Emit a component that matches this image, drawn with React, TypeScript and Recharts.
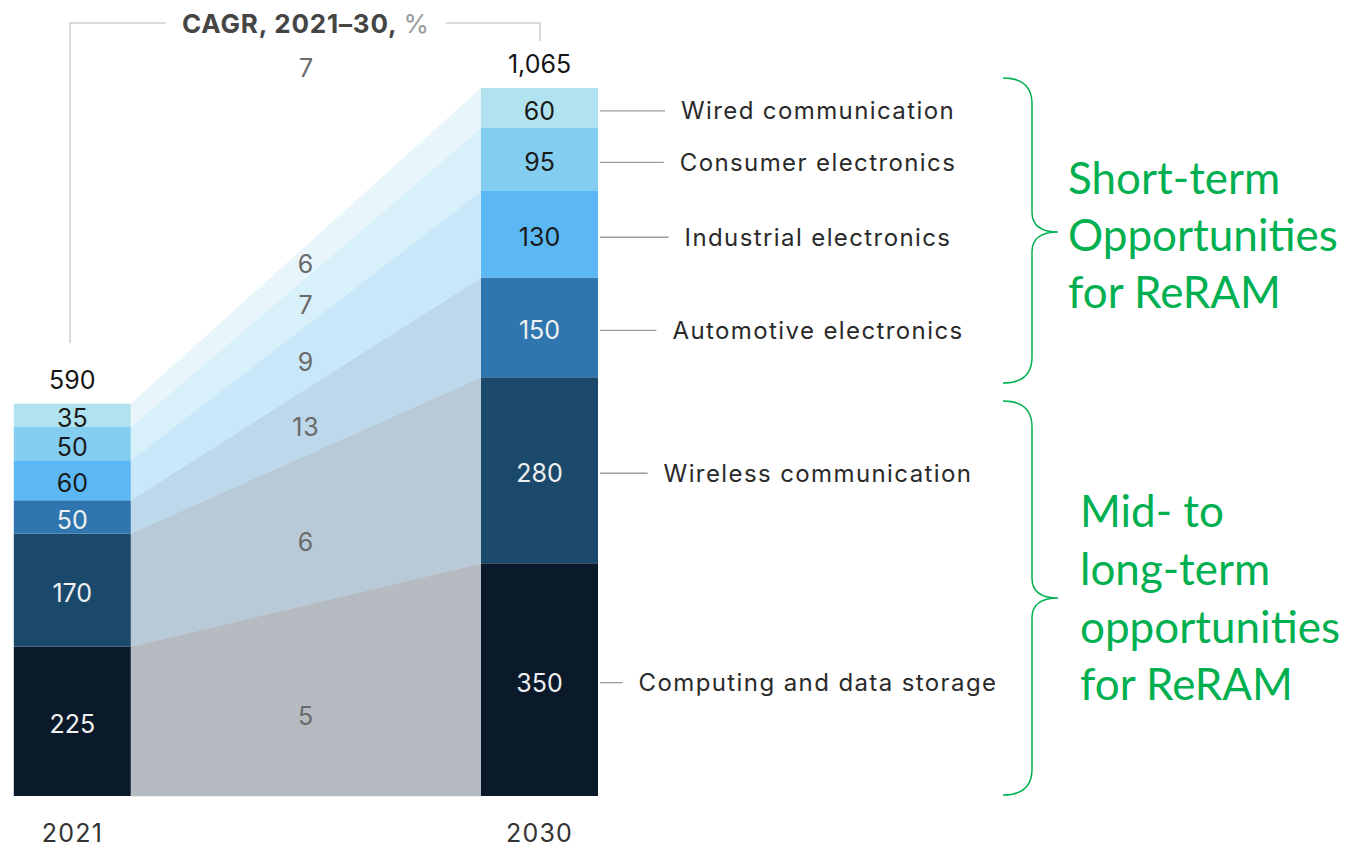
import React from 'react';
import { ComposedChart, Bar, Area, Scatter, XAxis, YAxis, LabelList } from 'recharts';

const years = ['2021', '2030'];
const segments = [
  'Computing and data storage',
  'Wireless communication',
  'Automotive electronics',
  'Industrial electronics',
  'Consumer electronics',
  'Wired communication',
];
const values2021 = [225, 170, 50, 60, 50, 35];
const values2030 = [350, 280, 150, 130, 95, 60];
const cagr = [5, 6, 13, 9, 7, 6];
const totals = [590, 1065];
const totalCagr = 7;

const barColors = ['#0b1a2a', '#1b496c', '#2f76b0', '#5bb8f5', '#82cdf0', '#b0e3ef'];
const areaColors = ['#b6bac1', '#b8cad8', '#bcd8ea', '#c8e8f9', '#d8f0fa', '#e8f6fb'];
const valueColors = ['#f0f0f0', '#f0f0f0', '#f0f0f0', '#1a1a1a', '#1a1a1a', '#1a1a1a'];

const FONT = 'Inter';
const GREEN = '#00b050';

const cumulative = (vals: number[]) =>
  vals.reduce<number[]>((acc, v) => [...acc, acc[acc.length - 1] + v], [0]);
const base2021 = cumulative(values2021);
const base2030 = cumulative(values2030);

// bars use x "t", the connecting bands use x "ta" (own hidden axis)
const barRow = (t: number, year: string, vals: number[], total: number) => {
  const row: any = { t, year, total };
  vals.forEach((v, i) => (row['b' + i] = v));
  return row;
};
const areaRow = (ta: number, base: number[]) => {
  const row: any = { ta };
  segments.forEach((_, i) => (row['a' + i] = [base[i], base[i + 1]]));
  return row;
};

const chartData = [
  barRow(0.5, years[0], values2021, totals[0]),
  areaRow(1, base2021),
  areaRow(4, base2030),
  barRow(4.5, years[1], values2030, totals[1]),
];

const cagrPoints = segments.map((_, i) => {
  const lo = (base2021[i] + base2030[i]) / 2;
  const hi = (base2021[i + 1] + base2030[i + 1]) / 2;
  return { ta: 2.5, v: lo + (hi - lo) * 0.42, label: cagr[i] };
});

let ctx: CanvasRenderingContext2D | null = null;
const textWidth = (s: string, font: string) => {
  if (!ctx) ctx = document.createElement('canvas').getContext('2d');
  if (!ctx) return s.length * 13;
  ctx.font = font;
  return ctx.measureText(s).width;
};

const LABEL_SIZE = 24;
const LABEL_SPACING = 1.4;

const getBox = (props: any) => {
  const vb = props.viewBox && props.viewBox.width != null ? props.viewBox : props;
  const h = Number(vb.height);
  return { x: Number(vb.x), y: h < 0 ? Number(vb.y) + h : Number(vb.y), width: Number(vb.width), height: Math.abs(h) };
};

const segmentLabel = (i: number) => (props: any) => {
  const { value } = props;
  if (value == null) return null;
  const { x, y, width, height } = getBox(props);
  const cx = x + width / 2;
  const cy = y + height / 2 + 3;
  const isLast = value === values2030[i];
  let extra = null;
  if (isLast) {
    const right = x + width;
    const center = right + 220;
    const w = textWidth(segments[i], `${LABEL_SIZE}px ${FONT}`) + LABEL_SPACING * segments[i].length;
    extra = (
      <g>
        <line x1={right + 2} y1={cy} x2={center - w / 2 - 16} y2={cy} stroke="#9c9c9c" strokeWidth={1.3} />
        <text
          x={center}
          y={cy}
          textAnchor="middle"
          dominantBaseline="central"
          fontFamily={FONT}
          fontSize={LABEL_SIZE}
          letterSpacing={LABEL_SPACING}
          fill="#2a2a2a"
        >
          {segments[i]}
        </text>
      </g>
    );
  }
  return (
    <g>
      <text
        x={cx}
        y={cy}
        textAnchor="middle"
        dominantBaseline="central"
        fontFamily={FONT}
        fontSize={25}
        fill={valueColors[i]}
      >
        {value}
      </text>
      {extra}
    </g>
  );
};

const totalLabel = (props: any) => {
  const { value } = props;
  if (value == null) return null;
  const { x, y, width } = getBox(props);
  return (
    <text
      x={x + width / 2}
      y={y - 24}
      textAnchor="middle"
      dominantBaseline="central"
      fontFamily={FONT}
      fontSize={25}
      fill="#151515"
    >
      {value.toLocaleString('en-US')}
    </text>
  );
};

const YearTick = (props: any) => {
  const { x, y, payload } = props;
  const row = chartData.find((r) => r.t === payload.value);
  return (
    <text x={x} y={y} dy={38} textAnchor="middle" fontFamily={FONT} fontSize={25} letterSpacing={1.2} fill="#333">
      {row ? row.year : ''}
    </text>
  );
};

const CagrShape = (props: any) => (
  <text
    x={props.cx}
    y={props.cy}
    textAnchor="middle"
    dominantBaseline="central"
    fontFamily={FONT}
    fontSize={25}
    letterSpacing={1}
    fill="#6a6a6a"
  >
    {props.payload.label}
  </text>
);

const Annotations = () => (
  <svg
    width={1349}
    height={848}
    style={{ position: 'absolute', left: 0, top: 0, pointerEvents: 'none' }}
  >
    <g stroke="#cfcfcf" strokeWidth={1.5} fill="none">
      <polyline points="70,343 70,23 166,23" />
      <polyline points="446,23 540,23 540,41" />
    </g>
    <text x={306} y={23} textAnchor="middle" dominantBaseline="central" fontFamily={FONT} fontSize={26} letterSpacing={0.8}>
      <tspan fontWeight={700} fill="#454545">CAGR, 2021–30, </tspan>
      <tspan fill="#9a9a9a">%</tspan>
    </text>
    <text x={306} y={68} textAnchor="middle" dominantBaseline="central" fontFamily={FONT} fontSize={25} fill="#6a6a6a">
      {totalCagr}
    </text>
    <g stroke={GREEN} strokeWidth={1.5} fill="none">
      <path d="M1003 78 Q1032 78 1032 104 L1032 212 Q1032 232 1058 232 Q1032 232 1032 252 L1032 357 Q1032 383 1003 383" />
      <path d="M1003 401 Q1032 401 1032 427 L1032 578 Q1032 598 1058 598 Q1032 598 1032 618 L1032 769 Q1032 795 1003 795" />
    </g>
    <g fontFamily="Lato" fontSize={44} fill={GREEN}>
      <text x={1068} y={177} dominantBaseline="central">Short-term</text>
      <text x={1068} y={234} dominantBaseline="central">Opportunities</text>
      <text x={1068} y={291} dominantBaseline="central">for ReRAM</text>
      <text x={1080} y={510} dominantBaseline="central">Mid- to</text>
      <text x={1080} y={568} dominantBaseline="central">long-term</text>
      <text x={1080} y={626} dominantBaseline="central">opportunities</text>
      <text x={1080} y={683} dominantBaseline="central">for ReRAM</text>
    </g>
  </svg>
);

export default function App() {
  return (
    <div style={{ position: 'absolute', left: 0, top: 0, width: 1349, height: 848, background: '#fff' }}>
      <ComposedChart
        width={1349}
        height={848}
        data={chartData}
        margin={{ top: 88, right: 751, bottom: 0, left: 14 }}
        barSize={117}
      >
        <XAxis
          dataKey="t"
          type="number"
          domain={[0, 5]}
          ticks={[0.5, 4.5]}
          axisLine={false}
          tickLine={false}
          height={52}
          tick={<YearTick />}
        />
        <XAxis xAxisId="area" dataKey="ta" type="number" domain={[0, 5]} hide />
        <YAxis type="number" domain={[0, 1065]} hide />
        {segments.map((s, i) => (
          <Area
            key={'a' + i}
            xAxisId="area"
            dataKey={'a' + i}
            type="linear"
            fill={areaColors[i]}
            fillOpacity={1}
            stroke={areaColors[i]}
            strokeWidth={0.5}
            connectNulls={false}
            dot={false}
            activeDot={false}
            isAnimationActive={false}
          />
        ))}
        {segments.map((s, i) => (
          <Bar key={'b' + i} dataKey={'b' + i} stackId="s" fill={barColors[i]} isAnimationActive={false}>
            <LabelList dataKey={'b' + i} content={segmentLabel(i)} />
            {i === segments.length - 1 ? <LabelList dataKey="total" content={totalLabel} /> : null}
          </Bar>
        ))}
        <Scatter xAxisId="area" data={cagrPoints} dataKey="v" shape={<CagrShape />} isAnimationActive={false} />
      </ComposedChart>
      <Annotations />
    </div>
  );
}
